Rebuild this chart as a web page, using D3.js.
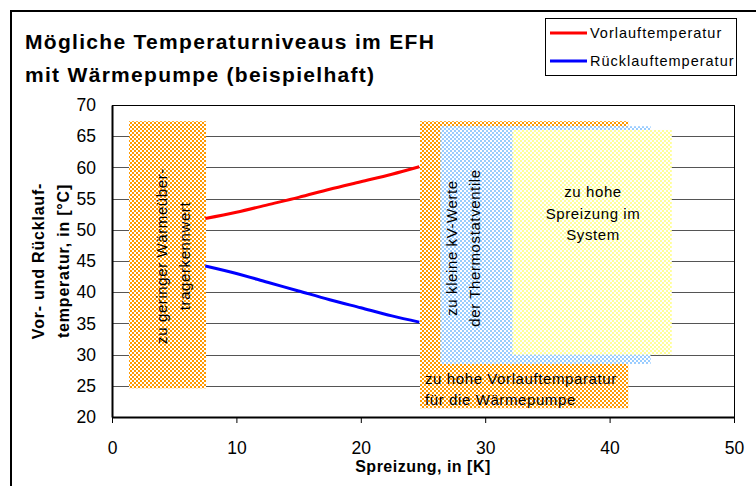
<!DOCTYPE html>
<html>
<head>
<meta charset="utf-8">
<script src="https://cdn.jsdelivr.net/npm/d3@7"></script>
<style>
  body { margin: 0; background: #fff; }
  svg { display: block; font-family: Arial, "Liberation Sans", sans-serif; }
</style>
</head>
<body>
<div id="chart"></div>
<script>
// Daten
const spreizung = [7.5, 10, 12.5, 15, 17.5, 20, 22.5, 24.7];
const vorlauf = [51.8, 52.8, 54.0, 55.2, 56.5, 57.7, 58.9, 60.1];
const ruecklauf = [44.2, 43.0, 41.6, 40.2, 38.8, 37.5, 36.2, 35.2];

const xTicks = [0, 10, 20, 30, 40, 50];
const yTicks = [20, 25, 30, 35, 40, 45, 50, 55, 60, 65, 70];

const seriesNames = ['Vorlauftemperatur', 'Rücklauftemperatur'];
const seriesColors = ['#ff0000', '#0000ff'];

// Bereiche: [x0, x1, y0, y1]
const zoneNames = ['waermeuebertrager', 'vorlauf', 'kv', 'spreizung'];
const zoneExtents = [
  [1.37, 7.56, 24.6, 67.4],
  [24.76, 41.5, 21.4, 67.4],
  [26.4, 43.3, 28.5, 66.6],
  [32.2, 45.0, 30.0, 66.0]
];
const zoneColors = ['#ff9900', '#ff9900', '#99ccff', '#ffff99'];

const width = 756;
const height = 486;
const margin = { top: 105, right: 22, bottom: 69, left: 112 };

const svg = d3.select('#chart')
  .append('svg')
  .attr('width', width)
  .attr('height', height);

const x = d3.scaleLinear().domain([0, 50]).range([margin.left, width - margin.right]);
const y = d3.scaleLinear().domain([20, 70]).range([height - margin.bottom, margin.top]);

// Muster (Schachbrett)
const defs = svg.append('defs');
zoneColors.forEach((c, i) => {
  const p = defs.append('pattern')
    .attr('id', 'pat' + i)
    .attr('patternUnits', 'userSpaceOnUse')
    .attr('width', 4)
    .attr('height', 4);
  p.append('rect').attr('width', 4).attr('height', 4).attr('fill', '#fff');
  p.append('rect').attr('width', 2).attr('height', 2).attr('fill', c);
  p.append('rect').attr('x', 2).attr('y', 2).attr('width', 2).attr('height', 2).attr('fill', c);
});

// Rahmen
svg.append('rect')
  .attr('x', 11).attr('y', 11)
  .attr('width', 770).attr('height', 500)
  .attr('fill', 'none')
  .attr('stroke', '#000')
  .attr('stroke-width', 2);

// Gitterlinien
svg.append('g')
  .selectAll('line')
  .data(yTicks)
  .join('line')
  .attr('x1', x(0))
  .attr('x2', x(50))
  .attr('y1', d => Math.round(y(d)) + 0.5)
  .attr('y2', d => Math.round(y(d)) + 0.5)
  .attr('stroke', '#555')
  .attr('stroke-width', 1);

// Bereiche
svg.append('g')
  .selectAll('rect')
  .data(zoneExtents)
  .join('rect')
  .attr('class', (d, i) => 'zone ' + zoneNames[i])
  .attr('x', d => x(d[0]))
  .attr('y', d => y(d[3]))
  .attr('width', d => x(d[1]) - x(d[0]))
  .attr('height', d => y(d[2]) - y(d[3]))
  .attr('fill', (d, i) => `url(#pat${i})`);

// Plotrahmen
svg.append('rect')
  .attr('x', x(0) + 0.5)
  .attr('y', y(70) + 0.5)
  .attr('width', x(50) - x(0))
  .attr('height', y(20) - y(70))
  .attr('fill', 'none')
  .attr('stroke', '#000')
  .attr('stroke-width', 1);

// Achsen
const xAxis = d3.axisBottom(x).tickValues(xTicks).tickSize(6).tickSizeOuter(0).tickFormat(d3.format('d'));
const gx = svg.append('g')
  .attr('transform', `translate(0, ${y(20)})`)
  .call(xAxis);
gx.select('.domain').attr('stroke', '#000').attr('stroke-width', 2);
gx.selectAll('text').attr('font-size', 17.5).attr('font-family', 'Arial, "Liberation Sans", sans-serif').attr('fill', '#000').attr('dy', '1.6em');

const yAxis = d3.axisLeft(y).tickValues(yTicks).tickSize(0).tickPadding(16).tickFormat(d3.format('d'));
const gy = svg.append('g')
  .attr('transform', `translate(${x(0)}, 0)`)
  .call(yAxis);
gy.select('.domain').attr('stroke', '#000').attr('stroke-width', 2);
gy.selectAll('text').attr('font-size', 17.5).attr('font-family', 'Arial, "Liberation Sans", sans-serif').attr('fill', '#000');

// Linien
const line = d3.line().x(d => x(d[0])).y(d => y(d[1])).curve(d3.curveMonotoneX);
[vorlauf, ruecklauf].forEach((vals, i) => {
  svg.append('path')
    .datum(spreizung.map((s, j) => [s, vals[j]]))
    .attr('d', line)
    .attr('fill', 'none')
    .attr('stroke', seriesColors[i])
    .attr('stroke-width', 3);
});

// Texte in den Bereichen
function rotatedText(cx, cy, lines, lh) {
  const t = svg.append('text')
    .attr('transform', `translate(${cx}, ${cy}) rotate(-90)`)
    .attr('text-anchor', 'middle')
    .attr('font-size', 15)
    .attr('letter-spacing', 0.6);
  lines.forEach((l, i) => {
    t.append('tspan').attr('x', 0).attr('y', (i - (lines.length - 1) / 2) * lh + 5).text(l);
  });
}
rotatedText(173.5, 256, ['zu geringer Wärmeüber-', 'tragerkennwert'], 23);
rotatedText(463, 248, ['zu kleine kV-Werte', 'der Thermostatventile'], 23);

const tSpreizung = svg.append('text')
  .attr('text-anchor', 'middle')
  .attr('font-size', 15)
  .attr('letter-spacing', 0.6);
['zu hohe', 'Spreizung im', 'System'].forEach((l, i) => {
  tSpreizung.append('tspan').attr('x', 593).attr('y', 197 + i * 21.5).text(l);
});

const tVorlauf = svg.append('text')
  .attr('font-size', 15)
  .attr('letter-spacing', 0.6);
['zu hohe Vorlauftemparatur', 'für die Wärmepumpe'].forEach((l, i) => {
  tVorlauf.append('tspan').attr('x', x(zoneExtents[1][0]) + 5).attr('y', 384 + i * 21).text(l);
});

// Titel
const title = svg.append('text')
  .attr('font-size', 21)
  .attr('font-weight', 'bold')
  .attr('letter-spacing', 1.3);
['Mögliche Temperaturniveaus im EFH', 'mit Wärmepumpe (beispielhaft)'].forEach((l, i) => {
  title.append('tspan').attr('x', 25).attr('y', 49 + i * 33).text(l);
});

// Achsentitel
svg.append('text')
  .attr('x', (x(0) + x(50)) / 2)
  .attr('y', 472)
  .attr('text-anchor', 'middle')
  .attr('font-size', 16)
  .attr('font-weight', 'bold')
  .attr('letter-spacing', 0.5)
  .text('Spreizung, in [K]');

const yTitle = svg.append('text')
  .attr('transform', `translate(0, ${(y(20) + y(70)) / 2}) rotate(-90)`)
  .attr('text-anchor', 'middle')
  .attr('font-size', 16)
  .attr('font-weight', 'bold')
  .attr('letter-spacing', 0.8);
['Vor- und Rücklauf-', 'temperatur, in [°C]'].forEach((l, i) => {
  yTitle.append('tspan').attr('x', 0).attr('y', 44 + i * 25).text(l);
});

// Legende
const legend = svg.append('g');
legend.append('rect')
  .attr('x', 545.5).attr('y', 18.5)
  .attr('width', 191).attr('height', 57)
  .attr('fill', '#fff')
  .attr('stroke', '#000')
  .attr('stroke-width', 1);
seriesNames.forEach((n, i) => {
  legend.append('line')
    .attr('x1', 550).attr('x2', 587)
    .attr('y1', 33 + i * 28).attr('y2', 33 + i * 28)
    .attr('stroke', seriesColors[i])
    .attr('stroke-width', 3);
  legend.append('text')
    .attr('x', 590).attr('y', 38 + i * 28)
    .attr('font-size', 14.5)
    .attr('letter-spacing', 1)
    .text(n);
});
</script>
</body>
</html>
